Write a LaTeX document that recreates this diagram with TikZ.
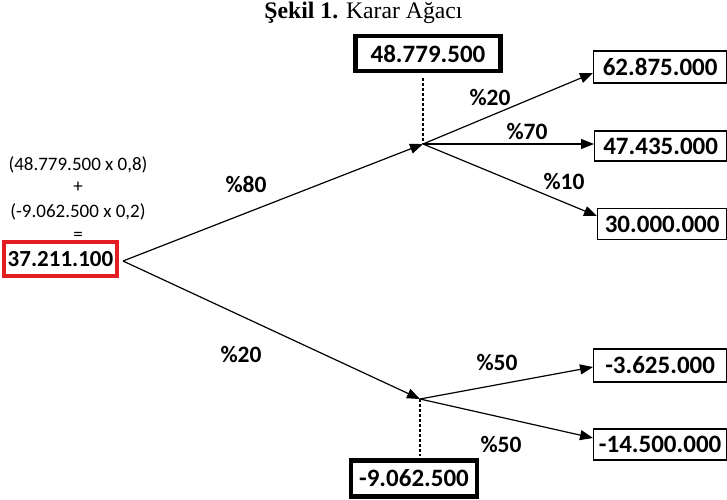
\documentclass[tikz,border=0pt]{standalone}
\usepackage{graphicx}
\usepackage{fontspec}
\setmainfont{Liberation Serif}
\newfontfamily\calfont{Carlito}
\usetikzlibrary{arrows.meta,calc}
\definecolor{rootred}{RGB}{228,28,36}
\begin{document}
\begin{tikzpicture}[x=1pt,y=-1pt,
  numfont/.style={font=\calfont\bfseries\fontsize{25}{27}\selectfont},
  outcome/.style={draw, line width=1.3pt, inner sep=0pt, numfont, anchor=west},
  valuebox/.style={draw, line width=4.5pt, inner sep=0pt, numfont},
  prob/.style={font=\calfont\bfseries\fontsize{23.5}{25}\selectfont, inner sep=0pt},
  calc/.style={font=\calfont\fontsize{19}{21}\selectfont, inner sep=0pt},
  branch/.style={line width=1.2pt, -{Triangle[length=13pt,width=10pt]}},
  link/.style={line width=2.6pt, dash pattern=on 2.5pt off 2.5pt}]
\fill[white] (0,0) rectangle (727,499);
\useasboundingbox (0,0) rectangle (727,499);

% caption
\node[inner sep=0pt] (cap) at (363.5,13) {\resizebox{198pt}{!}{\textbf{Şekil 1.} Karar Ağacı}};

% root decision and its calculation
\node[draw=rootred, line width=3.5pt, inner sep=0pt, minimum width=113pt, minimum height=34pt,
      font=\calfont\bfseries\fontsize{23}{25}\selectfont] (root) at (60.5,259) {37.211.100};
\node[calc] (c1) at (78,165) {(48.779.500 x 0,8)};
\node[calc] (c2) at (78,187) {+};
\node[calc] (c3) at (78,212) {(-9.062.500 x 0,2)};
\node[calc] (c4) at (78,236) {=};
\coordinate (rootout) at (123,261);

% chance nodes
\coordinate (up) at (423,144);
\coordinate (dn) at (420,399);

% expected values of the chance nodes
\node[valuebox, minimum width=145pt, minimum height=35pt] (ev1) at (428,53.5) {48.779.500};
\node[valuebox, minimum width=126pt, minimum height=36pt] (ev2) at (414,478.5) {-9.062.500};
\draw[link] ($(ev1.south -| up)+(0,5)$) -- (up);
\draw[link] (dn) -- ($(ev2.north -| dn)+(0,-2)$);

% outcomes
\node[outcome, minimum width=133pt, minimum height=32pt] (o1) at (593,67) {62.875.000};
\node[outcome, minimum width=132pt, minimum height=30pt] (o2) at (594,146) {47.435.000};
\node[outcome, minimum width=129pt, minimum height=31pt] (o3) at (597,224) {30.000.000};
\node[outcome, minimum width=133pt, minimum height=33pt] (o4) at (593,365.5) {-3.625.000};
\node[outcome, minimum width=133pt, minimum height=31pt] (o5) at (593,444.5) {-14.500.000};

% branches
\draw[branch] (rootout) -- (up);
\draw[branch] (rootout) -- (dn);
\draw[branch] (up) -- (o1.west |- 0,73);
\draw[branch] (up) -- (o2.west |- up);
\draw[branch] (up) -- (o3.west |- 0,216);
\draw[branch] (dn) -- (o4.west |- 0,367);
\draw[branch] (dn) -- (o5.west |- 0,438);

% probabilities
\node[prob] (p80) at (246,184) {\%80};
\node[prob] (p20a) at (241,354) {\%20};
\node[prob] (p20b) at (490,97) {\%20};
\node[prob] (p70) at (527,131) {\%70};
\node[prob] (p10) at (564,181) {\%10};
\node[prob] (p50a) at (497,362) {\%50};
\node[prob] (p50b) at (501,444) {\%50};
\end{tikzpicture}
\end{document}
